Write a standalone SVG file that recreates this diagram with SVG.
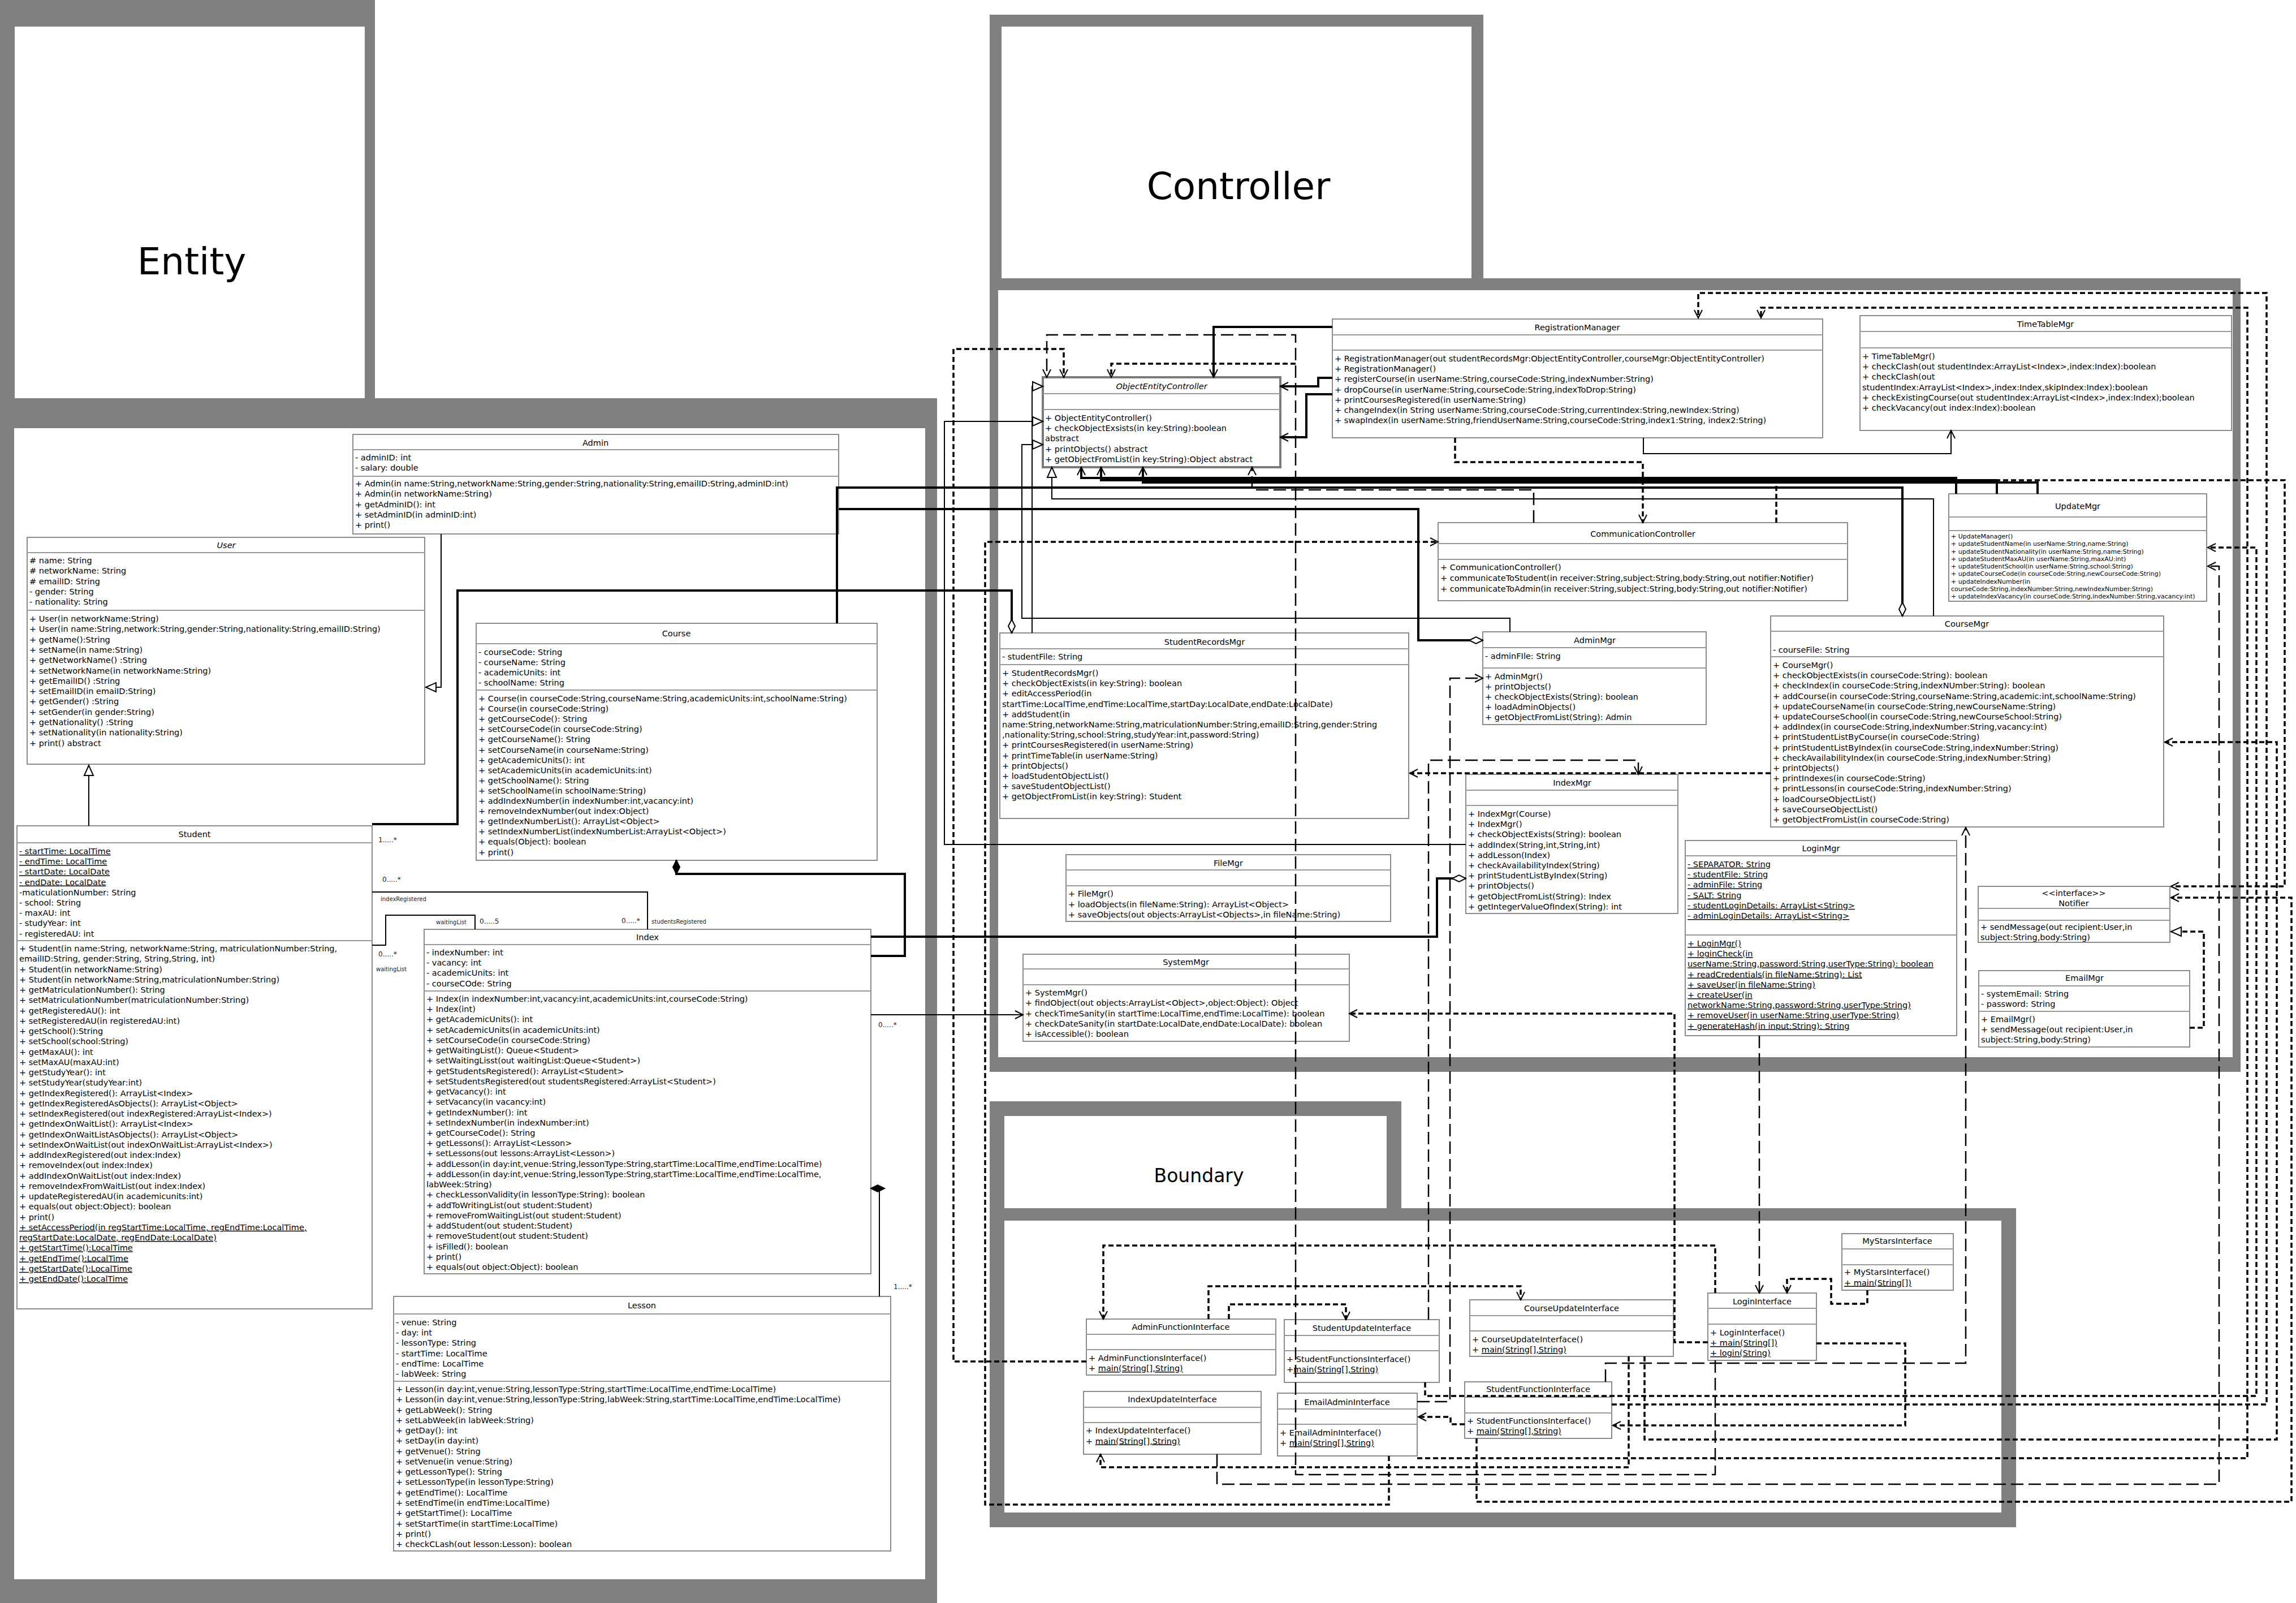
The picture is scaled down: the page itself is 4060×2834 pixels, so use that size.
<svg xmlns="http://www.w3.org/2000/svg" width="4060" height="2834" viewBox="0 0 4060 2834">
<style>
text{font-family:"DejaVu Sans","Liberation Sans",sans-serif;font-size:14.5px;fill:#000}
.c{text-anchor:middle}
.i{font-style:italic}
.u{text-decoration:underline}
.sm{font-size:11px}
.lb{font-size:10px;fill:#222}
.lm{font-size:12px;fill:#222}
.pk{font-size:66px}
.pk2{font-size:33px}
.box{fill:#fff;stroke:#8c8c8c;stroke-width:2}
.abs{fill:#fff;stroke:#7a7a7a;stroke-width:4}
.sep{stroke:#9a9a9a;stroke-width:2}
.frame{fill:#808080}
.inner{fill:#fff}
.ln{fill:none;stroke:#000;stroke-width:2}
.bold{stroke-width:4}
.dep{fill:none;stroke:#000;stroke-width:3.5;stroke-dasharray:9 5}
.dd{fill:none;stroke:#000;stroke-width:2.5;stroke-dasharray:22 9}
</style>
<defs>
<marker id="arrow" markerWidth="20" markerHeight="20" refX="17" refY="10" orient="auto" markerUnits="userSpaceOnUse"><path d="M3,3 L17,10 L3,17" fill="none" stroke="#000" stroke-width="2"/></marker>
<marker id="tri" markerWidth="24" markerHeight="22" refX="21" refY="11" orient="auto" markerUnits="userSpaceOnUse"><path d="M3,3 L21,11 L3,19 Z" fill="#fff" stroke="#000" stroke-width="2"/></marker>
<marker id="dia" markerWidth="30" markerHeight="18" refX="27" refY="9" orient="auto" markerUnits="userSpaceOnUse"><path d="M3,9 L15,3 L27,9 L15,15 Z" fill="#fff" stroke="#000" stroke-width="2"/></marker>
<marker id="fdia" markerWidth="30" markerHeight="18" refX="27" refY="9" orient="auto" markerUnits="userSpaceOnUse"><path d="M3,9 L15,3 L27,9 L15,15 Z" fill="#000" stroke="#000" stroke-width="2"/></marker>
</defs>
<rect width="4060" height="2834" fill="#fff"/>

<!-- package frames -->
<g id="pkg-entity">
<rect class="frame" x="0" y="0" width="663" height="757"/>
<rect class="frame" x="0" y="704" width="1657" height="2130"/>
<rect class="inner" x="26" y="47" width="619" height="657"/>
<rect class="inner" x="25" y="757" width="1611" height="2035"/>
<text class="pk c" x="339" y="485">Entity</text>
</g>
<g id="pkg-controller">
<rect class="frame" x="1750" y="26" width="873" height="487"/>
<rect class="frame" x="1750" y="492" width="2212" height="1403"/>
<rect class="inner" x="1771" y="47" width="831" height="445"/>
<rect class="inner" x="1765" y="513" width="2183" height="1356"/>
<text class="pk c" x="2190" y="352">Controller</text>
</g>
<g id="pkg-boundary">
<rect class="frame" x="1750" y="1947" width="728" height="211"/>
<rect class="frame" x="1750" y="2136" width="1815" height="564"/>
<rect class="inner" x="1776" y="1973" width="676" height="163"/>
<rect class="inner" x="1776" y="2158" width="1763" height="516"/>
<text class="pk2 c" x="2120" y="2090">Boundary</text>
</g>

<!-- entity classes -->
<g id="admin">
<rect class="box" x="624" y="768" width="859" height="176"/>
<line class="sep" x1="624" y1="795" x2="1483" y2="795"/><line class="sep" x1="624" y1="842" x2="1483" y2="842"/>
<text class="c" x="1053" y="788">Admin</text>
<text x="628" y="814">- adminID: int<tspan x="628" dy="18.3">- salary: double</tspan></text>
<text x="628" y="860">+ Admin(in name:String,networkName:String,gender:String,nationality:String,emailID:String,adminID:int)<tspan x="628" dy="18.3">+ Admin(in networkName:String)</tspan><tspan x="628" dy="18.3">+ getAdminID(): int</tspan><tspan x="628" dy="18.3">+ setAdminID(in adminID:int)</tspan><tspan x="628" dy="18.3">+ print()</tspan></text>
</g>
<g id="user">
<rect class="box" x="48" y="950" width="703" height="401"/>
<line class="sep" x1="48" y1="977" x2="751" y2="977"/><line class="sep" x1="48" y1="1079" x2="751" y2="1079"/>
<text class="c i" x="400" y="969">User</text>
<text x="52" y="996"># name: String<tspan x="52" dy="18.3"># networkName: String</tspan><tspan x="52" dy="18.3"># emailID: String</tspan><tspan x="52" dy="18.3">- gender: String</tspan><tspan x="52" dy="18.3">- nationality: String</tspan></text>
<text x="52" y="1099">+ User(in networkName:String)<tspan x="52" dy="18.3">+ User(in name:String,network:String,gender:String,nationality:String,emailID:String)</tspan><tspan x="52" dy="18.3">+ getName():String</tspan><tspan x="52" dy="18.3">+ setName(in name:String)</tspan><tspan x="52" dy="18.3">+ getNetworkName() :String</tspan><tspan x="52" dy="18.3">+ setNetworkName(in networkName:String)</tspan><tspan x="52" dy="18.3">+ getEmailID() :String</tspan><tspan x="52" dy="18.3">+ setEmailID(in emaiID:String)</tspan><tspan x="52" dy="18.3">+ getGender() :String</tspan><tspan x="52" dy="18.3">+ setGender(in gender:String)</tspan><tspan x="52" dy="18.3">+ getNationality() :String</tspan><tspan x="52" dy="18.3">+ setNationality(in nationality:String)</tspan><tspan x="52" dy="18.3">+ print() abstract</tspan></text>
</g>
<g id="student">
<rect class="box" x="30" y="1460" width="628" height="854"/>
<line class="sep" x1="30" y1="1490" x2="658" y2="1490"/><line class="sep" x1="30" y1="1663" x2="658" y2="1663"/>
<text class="c" x="344" y="1480">Student</text>
<text x="34" y="1510"><tspan class="u">- startTime: LocalTime</tspan><tspan class="u" x="34" dy="18.2">- endTime: LocalTime</tspan><tspan class="u" x="34" dy="18.2">- startDate: LocalDate</tspan><tspan class="u" x="34" dy="18.2">- endDate: LocalDate</tspan><tspan x="34" dy="18.2">-maticulationNumber: String</tspan><tspan x="34" dy="18.2">- school: String</tspan><tspan x="34" dy="18.2">- maxAU: int</tspan><tspan x="34" dy="18.2">- studyYear: int</tspan><tspan x="34" dy="18.2">- registeredAU: int</tspan></text>
<text x="34" y="1682">+ Student(in name:String, networkName:String, matriculationNumber:String,<tspan x="34" dy="18.25">emailID:String, gender:String, String,String, int)</tspan><tspan x="34" dy="18.25">+ Student(in networkName:String)</tspan><tspan x="34" dy="18.25">+ Student(in networkName:String,matriculationNumber:String)</tspan><tspan x="34" dy="18.25">+ getMatriculationNumber(): String</tspan><tspan x="34" dy="18.25">+ setMatriculationNumber(matriculationNumber:String)</tspan><tspan x="34" dy="18.25">+ getRegisteredAU(): int</tspan><tspan x="34" dy="18.25">+ setRegisteredAU(in registeredAU:int)</tspan><tspan x="34" dy="18.25">+ getSchool():String</tspan><tspan x="34" dy="18.25">+ setSchool(school:String)</tspan><tspan x="34" dy="18.25">+ getMaxAU(): int</tspan><tspan x="34" dy="18.25">+ setMaxAU(maxAU:int)</tspan><tspan x="34" dy="18.25">+ getStudyYear(): int</tspan><tspan x="34" dy="18.25">+ setStudyYear(studyYear:int)</tspan><tspan x="34" dy="18.25">+ getIndexRegistered(): ArrayList&lt;Index&gt;</tspan><tspan x="34" dy="18.25">+ getIndexRegisteredAsObjects(): ArrayList&lt;Object&gt;</tspan><tspan x="34" dy="18.25">+ setIndexRegistered(out indexRegistered:ArrayList&lt;Index&gt;)</tspan><tspan x="34" dy="18.25">+ getIndexOnWaitList(): ArrayList&lt;Index&gt;</tspan><tspan x="34" dy="18.25">+ getIndexOnWaitListAsObjects(): ArrayList&lt;Object&gt;</tspan><tspan x="34" dy="18.25">+ setIndexOnWaitList(out indexOnWaitList:ArrayList&lt;Index&gt;)</tspan><tspan x="34" dy="18.25">+ addIndexRegistered(out index:Index)</tspan><tspan x="34" dy="18.25">+ removeIndex(out index:Index)</tspan><tspan x="34" dy="18.25">+ addIndexOnWaitList(out index:Index)</tspan><tspan x="34" dy="18.25">+ removeIndexFromWaitList(out index:Index)</tspan><tspan x="34" dy="18.25">+ updateRegisteredAU(in academicunits:int)</tspan><tspan x="34" dy="18.25">+ equals(out object:Object): boolean</tspan><tspan x="34" dy="18.25">+ print()</tspan><tspan class="u" x="34" dy="18.25">+ setAccessPeriod(in regStartTime:LocalTime, regEndTime:LocalTime,</tspan><tspan class="u" x="34" dy="18.25">regStartDate:LocalDate, regEndDate:LocalDate)</tspan><tspan class="u" x="34" dy="18.25">+ getStartTime():LocalTime</tspan><tspan class="u" x="34" dy="18.25">+ getEndTime():LocalTime</tspan><tspan class="u" x="34" dy="18.25">+ getStartDate():LocalTime</tspan><tspan class="u" x="34" dy="18.25">+ getEndDate():LocalTime</tspan></text>
</g>
<g id="course">
<rect class="box" x="842" y="1102" width="709" height="419"/>
<line class="sep" x1="842" y1="1138" x2="1551" y2="1138"/><line class="sep" x1="842" y1="1220" x2="1551" y2="1220"/>
<text class="c" x="1196" y="1125">Course</text>
<text x="846" y="1158">- courseCode: String<tspan x="846" dy="18.1">- courseName: String</tspan><tspan x="846" dy="18.1">- academicUnits: int</tspan><tspan x="846" dy="18.1">- schoolName: String</tspan></text>
<text x="846" y="1240">+ Course(in courseCode:String,courseName:String,academicUnits:int,schoolName:String)<tspan x="846" dy="18.1">+ Course(in courseCode:String)</tspan><tspan x="846" dy="18.1">+ getCourseCode(): String</tspan><tspan x="846" dy="18.1">+ setCourseCode(in courseCode:String)</tspan><tspan x="846" dy="18.1">+ getCourseName(): String</tspan><tspan x="846" dy="18.1">+ setCourseName(in courseName:String)</tspan><tspan x="846" dy="18.1">+ getAcademicUnits(): int</tspan><tspan x="846" dy="18.1">+ setAcademicUnits(in academicUnits:int)</tspan><tspan x="846" dy="18.1">+ getSchoolName(): String</tspan><tspan x="846" dy="18.1">+ setSchoolName(in schoolName:String)</tspan><tspan x="846" dy="18.1">+ addIndexNumber(in indexNumber:int,vacancy:int)</tspan><tspan x="846" dy="18.1">+ removeIndexNumber(out index:Object)</tspan><tspan x="846" dy="18.1">+ getIndexNumberList(): ArrayList&lt;Object&gt;</tspan><tspan x="846" dy="18.1">+ setIndexNumberList(indexNumberList:ArrayList&lt;Object&gt;)</tspan><tspan x="846" dy="18.1">+ equals(Object): boolean</tspan><tspan x="846" dy="18.1">+ print()</tspan></text>
</g>
<g id="index">
<rect class="box" x="750" y="1643" width="790" height="609"/>
<line class="sep" x1="750" y1="1670" x2="1540" y2="1670"/><line class="sep" x1="750" y1="1752" x2="1540" y2="1752"/>
<text class="c" x="1145" y="1662">Index</text>
<text x="754" y="1689">- indexNumber: int<tspan x="754" dy="18.2">- vacancy: int</tspan><tspan x="754" dy="18.2">- academicUnits: int</tspan><tspan x="754" dy="18.2">- courseCOde: String</tspan></text>
<text x="754" y="1771">+ Index(in indexNumber:int,vacancy:int,academicUnits:int,courseCode:String)<tspan x="754" dy="18.23">+ Index(int)</tspan><tspan x="754" dy="18.23">+ getAcademicUnits(): int</tspan><tspan x="754" dy="18.23">+ setAcademicUnits(in academicUnits:int)</tspan><tspan x="754" dy="18.23">+ setCourseCode(in courseCode:String)</tspan><tspan x="754" dy="18.23">+ getWaitingList(): Queue&lt;Student&gt;</tspan><tspan x="754" dy="18.23">+ setWaitingLisst(out waitingList:Queue&lt;Student&gt;)</tspan><tspan x="754" dy="18.23">+ getStudentsRegistered(): ArrayList&lt;Student&gt;</tspan><tspan x="754" dy="18.23">+ setStudentsRegistered(out studentsRegistered:ArrayList&lt;Student&gt;)</tspan><tspan x="754" dy="18.23">+ getVacancy(): int</tspan><tspan x="754" dy="18.23">+ setVacancy(in vacancy:int)</tspan><tspan x="754" dy="18.23">+ getIndexNumber(): int</tspan><tspan x="754" dy="18.23">+ setIndexNumber(in indexNumber:int)</tspan><tspan x="754" dy="18.23">+ getCourseCode(): String</tspan><tspan x="754" dy="18.23">+ getLessons(): ArrayList&lt;Lesson&gt;</tspan><tspan x="754" dy="18.23">+ setLessons(out lessons:ArrayList&lt;Lesson&gt;)</tspan><tspan x="754" dy="18.23">+ addLesson(in day:int,venue:String,lessonType:String,startTime:LocalTime,endTime:LocalTime)</tspan><tspan x="754" dy="18.23">+ addLesson(in day:int,venue:String,lessonType:String,startTime:LocalTime,endTime:LocalTime,</tspan><tspan x="754" dy="18.23">labWeek:String)</tspan><tspan x="754" dy="18.23">+ checkLessonValidity(in lessonType:String): boolean</tspan><tspan x="754" dy="18.23">+ addToWritingList(out student:Student)</tspan><tspan x="754" dy="18.23">+ removeFromWaitingList(out student:Student)</tspan><tspan x="754" dy="18.23">+ addStudent(out student:Student)</tspan><tspan x="754" dy="18.23">+ removeStudent(out student:Student)</tspan><tspan x="754" dy="18.23">+ isFilled(): boolean</tspan><tspan x="754" dy="18.23">+ print()</tspan><tspan x="754" dy="18.23">+ equals(out object:Object): boolean</tspan></text>
</g>
<g id="lesson">
<rect class="box" x="696" y="2292" width="879" height="450"/>
<line class="sep" x1="696" y1="2323" x2="1575" y2="2323"/><line class="sep" x1="696" y1="2442" x2="1575" y2="2442"/>
<text class="c" x="1135" y="2313">Lesson</text>
<text x="700" y="2343">- venue: String<tspan x="700" dy="18.2">- day: int</tspan><tspan x="700" dy="18.2">- lessonType: String</tspan><tspan x="700" dy="18.2">- startTime: LocalTime</tspan><tspan x="700" dy="18.2">- endTime: LocalTime</tspan><tspan x="700" dy="18.2">- labWeek: String</tspan></text>
<text x="700" y="2461">+ Lesson(in day:int,venue:String,lessonType:String,startTime:LocalTime,endTime:LocalTime)<tspan x="700" dy="18.27">+ Lesson(in day:int,venue:String,lessonType:String,labWeek:String,startTime:LocalTime,endTime:LocalTime)</tspan><tspan x="700" dy="18.27">+ getLabWeek(): String</tspan><tspan x="700" dy="18.27">+ setLabWeek(in labWeek:String)</tspan><tspan x="700" dy="18.27">+ getDay(): int</tspan><tspan x="700" dy="18.27">+ setDay(in day:int)</tspan><tspan x="700" dy="18.27">+ getVenue(): String</tspan><tspan x="700" dy="18.27">+ setVenue(in venue:String)</tspan><tspan x="700" dy="18.27">+ getLessonType(): String</tspan><tspan x="700" dy="18.27">+ setLessonType(in lessonType:String)</tspan><tspan x="700" dy="18.27">+ getEndTime(): LocalTime</tspan><tspan x="700" dy="18.27">+ setEndTime(in endTime:LocalTime)</tspan><tspan x="700" dy="18.27">+ getStartTime(): LocalTime</tspan><tspan x="700" dy="18.27">+ setStartTime(in startTime:LocalTime)</tspan><tspan x="700" dy="18.27">+ print()</tspan><tspan x="700" dy="18.27">+ checkCLash(out lesson:Lesson): boolean</tspan></text>
</g>

<!-- controller classes -->
<g id="objectEntityController">
<rect class="abs" x="1844" y="667" width="420" height="159"/>
<line class="sep" x1="1844" y1="696" x2="2264" y2="696"/><line class="sep" x1="1844" y1="724" x2="2264" y2="724"/>
<text class="c i" x="2054" y="688">ObjectEntityController</text>
<text x="1848" y="744">+ ObjectEntityController()<tspan x="1848" dy="18.2">+ checkObjectExsists(in key:String):boolean</tspan><tspan x="1848" dy="18.2">abstract</tspan><tspan x="1848" dy="18.2">+ printObjects() abstract</tspan><tspan x="1848" dy="18.2">+ getObjectFromList(in key:String):Object abstract</tspan></text>
</g>
<g id="registrationManager">
<rect class="box" x="2356" y="564" width="867" height="210"/>
<line class="sep" x1="2356" y1="592" x2="3223" y2="592"/><line class="sep" x1="2356" y1="619" x2="3223" y2="619"/>
<text class="c" x="2789" y="584">RegistrationManager</text>
<text x="2360" y="639">+ RegistrationManager(out studentRecordsMgr:ObjectEntityController,courseMgr:ObjectEntityController)<tspan x="2360" dy="18.2">+ RegistrationManager()</tspan><tspan x="2360" dy="18.2">+ registerCourse(in userName:String,courseCode:String,indexNumber:String)</tspan><tspan x="2360" dy="18.2">+ dropCourse(in userName:String,courseCode:String,indexToDrop:String)</tspan><tspan x="2360" dy="18.2">+ printCoursesRegistered(in userName:String)</tspan><tspan x="2360" dy="18.2">+ changeIndex(in String userName:String,courseCode:String,currentIndex:String,newIndex:String)</tspan><tspan x="2360" dy="18.2">+ swapIndex(in userName:String,friendUserName:String,courseCode:String,index1:String, index2:String)</tspan></text>
</g>
<g id="timeTableMgr">
<rect class="box" x="3289" y="558" width="657" height="203"/>
<line class="sep" x1="3289" y1="586" x2="3946" y2="586"/><line class="sep" x1="3289" y1="615" x2="3946" y2="615"/>
<text class="c" x="3617" y="578">TimeTableMgr</text>
<text x="3293" y="635">+ TimeTableMgr()<tspan x="3293" dy="18.2">+ checkClash(out studentIndex:ArrayList&lt;Index&gt;,index:Index):boolean</tspan><tspan x="3293" dy="18.2">+ checkClash(out</tspan><tspan x="3293" dy="18.2">studentIndex:ArrayList&lt;Index&gt;,index:Index,skipIndex:Index):boolean</tspan><tspan x="3293" dy="18.2">+ checkExistingCourse(out studentIndex:ArrayList&lt;Index&gt;,index:Index);boolean</tspan><tspan x="3293" dy="18.2">+ checkVacancy(out index:Index):boolean</tspan></text>
</g>
<g id="updateMgr">
<rect class="box" x="3446" y="873" width="456" height="190"/>
<line class="sep" x1="3446" y1="914" x2="3902" y2="914"/><line class="sep" x1="3446" y1="938" x2="3902" y2="938"/>
<text class="c" x="3674" y="900">UpdateMgr</text>
<text class="sm" x="3450" y="952">+ UpdateManager()<tspan x="3450" dy="13.25">+ updateStudentName(in userName:String,name:String)</tspan><tspan x="3450" dy="13.25">+ updateStudentNationality(in userName:String,name:String)</tspan><tspan x="3450" dy="13.25">+ updateStudentMaxAU(in userName:String,maxAU:int)</tspan><tspan x="3450" dy="13.25">+ updateStudentSchool(in userName:String,school:String)</tspan><tspan x="3450" dy="13.25">+ updateCourseCode(in courseCode:String,newCourseCode:String)</tspan><tspan x="3450" dy="13.25">+ updateIndexNumber(in</tspan><tspan x="3450" dy="13.25">courseCode:String,indexNumber:String,newIndexNumber:String)</tspan><tspan x="3450" dy="13.25">+ updateIndexVacancy(in courseCode:String,indexNumber:String,vacancy:int)</tspan></text>
</g>
<g id="communicationController">
<rect class="box" x="2543" y="924" width="724" height="138"/>
<line class="sep" x1="2543" y1="961" x2="3267" y2="961"/><line class="sep" x1="2543" y1="989" x2="3267" y2="989"/>
<text class="c" x="2905" y="949">CommunicationController</text>
<text x="2547" y="1008">+ CommunicationController()<tspan x="2547" dy="18.8">+ communicateToStudent(in receiver:String,subject:String,body:String,out notifier:Notifier)</tspan><tspan x="2547" dy="18.8">+ communicateToAdmin(in receiver:String,subject:String,body:String,out notifier:Notifier)</tspan></text>
</g>
<g id="studentRecordsMgr">
<rect class="box" x="1768" y="1119" width="723" height="328"/>
<line class="sep" x1="1768" y1="1147" x2="2491" y2="1147"/><line class="sep" x1="1768" y1="1175" x2="2491" y2="1175"/>
<text class="c" x="2130" y="1140">StudentRecordsMgr</text>
<text x="1772" y="1166">- studentFile: String</text>
<text x="1772" y="1195">+ StudentRecordsMgr()<tspan x="1772" dy="18.2">+ checkObjectExists(in key:String): boolean</tspan><tspan x="1772" dy="18.2">+ editAccessPeriod(in</tspan><tspan x="1772" dy="18.2">startTime:LocalTime,endTime:LocalTime,startDay:LocalDate,endDate:LocalDate)</tspan><tspan x="1772" dy="18.2">+ addStudent(in</tspan><tspan x="1772" dy="18.2">name:String,networkName:String,matriculationNumber:String,emailID:String,gender:String</tspan><tspan x="1772" dy="18.2">,nationality:String,school:String,studyYear:int,password:String)</tspan><tspan x="1772" dy="18.2">+ printCoursesRegistered(in userName:String)</tspan><tspan x="1772" dy="18.2">+ printTimeTable(in userName:String)</tspan><tspan x="1772" dy="18.2">+ printObjects()</tspan><tspan x="1772" dy="18.2">+ loadStudentObjectList()</tspan><tspan x="1772" dy="18.2">+ saveStudentObjectList()</tspan><tspan x="1772" dy="18.2">+ getObjectFromList(in key:String): Student</tspan></text>
</g>
<g id="adminMgr">
<rect class="box" x="2622" y="1117" width="395" height="164"/>
<line class="sep" x1="2622" y1="1145" x2="3017" y2="1145"/><line class="sep" x1="2622" y1="1181" x2="3017" y2="1181"/>
<text class="c" x="2820" y="1137">AdminMgr</text>
<text x="2626" y="1165">- adminFIle: String</text>
<text x="2626" y="1201">+ AdminMgr()<tspan x="2626" dy="18">+ printObjects()</tspan><tspan x="2626" dy="18">+ checkObjectExists(String): boolean</tspan><tspan x="2626" dy="18">+ loadAdminObjects()</tspan><tspan x="2626" dy="18">+ getObjectFromList(String): Admin</tspan></text>
</g>
<g id="courseMgr">
<rect class="box" x="3131" y="1089" width="695" height="373"/>
<line class="sep" x1="3131" y1="1116" x2="3826" y2="1116"/><line class="sep" x1="3131" y1="1161" x2="3826" y2="1161"/>
<text class="c" x="3478" y="1108">CourseMgr</text>
<text x="3135" y="1154">- courseFile: String</text>
<text x="3135" y="1181">+ CourseMgr()<tspan x="3135" dy="18.2">+ checkObjectExists(in courseCode:String): boolean</tspan><tspan x="3135" dy="18.2">+ checkIndex(in courseCode:String,indexNUmber:String): boolean</tspan><tspan x="3135" dy="18.2">+ addCourse(in courseCode:String,courseName:String,academic:int,schoolName:String)</tspan><tspan x="3135" dy="18.2">+ updateCourseName(in courseCode:String,newCourseName:String)</tspan><tspan x="3135" dy="18.2">+ updateCourseSchool(in courseCode:String,newCourseSchool:String)</tspan><tspan x="3135" dy="18.2">+ addIndex(in courseCode:String,indexNumber:String,vacancy:int)</tspan><tspan x="3135" dy="18.2">+ printStudentListByCourse(in courseCode:String)</tspan><tspan x="3135" dy="18.2">+ printStudentListByIndex(in courseCode:String,indexNumber:String)</tspan><tspan x="3135" dy="18.2">+ checkAvailabilityIndex(in courseCode:String,indexNumber:String)</tspan><tspan x="3135" dy="18.2">+ printObjects()</tspan><tspan x="3135" dy="18.2">+ printIndexes(in courseCode:String)</tspan><tspan x="3135" dy="18.2">+ printLessons(in courseCode:String,indexNumber:String)</tspan><tspan x="3135" dy="18.2">+ loadCourseObjectList()</tspan><tspan x="3135" dy="18.2">+ saveCourseObjectList()</tspan><tspan x="3135" dy="18.2">+ getObjectFromList(in courseCode:String)</tspan></text>
</g>
<g id="indexMgr">
<rect class="box" x="2592" y="1369" width="375" height="246"/>
<line class="sep" x1="2592" y1="1397" x2="2967" y2="1397"/><line class="sep" x1="2592" y1="1424" x2="2967" y2="1424"/>
<text class="c" x="2780" y="1389">IndexMgr</text>
<text x="2596" y="1444">+ IndexMgr(Course)<tspan x="2596" dy="18.2">+ IndexMgr()</tspan><tspan x="2596" dy="18.2">+ checkObjectExists(String): boolean</tspan><tspan x="2596" dy="18.2">+ addIndex(String,int,String,int)</tspan><tspan x="2596" dy="18.2">+ addLesson(Index)</tspan><tspan x="2596" dy="18.2">+ checkAvailabilityIndex(String)</tspan><tspan x="2596" dy="18.2">+ printStudentListByIndex(String)</tspan><tspan x="2596" dy="18.2">+ printObjects()</tspan><tspan x="2596" dy="18.2">+ getObjectFromList(String): Index</tspan><tspan x="2596" dy="18.2">+ getIntegerValueOfIndex(String): int</tspan></text>
</g>
<g id="fileMgr">
<rect class="box" x="1885" y="1511" width="574" height="118"/>
<line class="sep" x1="1885" y1="1538" x2="2459" y2="1538"/><line class="sep" x1="1885" y1="1566" x2="2459" y2="1566"/>
<text class="c" x="2172" y="1531">FileMgr</text>
<text x="1889" y="1585">+ FileMgr()<tspan x="1889" dy="18.5">+ loadObjects(in fileName:String): ArrayList&lt;Object&gt;</tspan><tspan x="1889" dy="18.5">+ saveObjects(out objects:ArrayList&lt;Objects&gt;,in fileName:String)</tspan></text>
</g>
<g id="systemMgr">
<rect class="box" x="1809" y="1687" width="577" height="154"/>
<line class="sep" x1="1809" y1="1713" x2="2386" y2="1713"/><line class="sep" x1="1809" y1="1741" x2="2386" y2="1741"/>
<text class="c" x="2097" y="1706">SystemMgr</text>
<text x="1813" y="1760">+ SystemMgr()<tspan x="1813" dy="18.3">+ findObject(out objects:ArrayList&lt;Object&gt;,object:Object): Object</tspan><tspan x="1813" dy="18.3">+ checkTimeSanity(in startTime:LocalTime,endTime:LocalTime): boolean</tspan><tspan x="1813" dy="18.3">+ checkDateSanity(in startDate:LocalDate,endDate:LocalDate): boolean</tspan><tspan x="1813" dy="18.3">+ isAccessible(): boolean</tspan></text>
</g>
<g id="loginMgr">
<rect class="box" x="2980" y="1486" width="480" height="345"/>
<line class="sep" x1="2980" y1="1513" x2="3460" y2="1513"/><line class="sep" x1="2980" y1="1653" x2="3460" y2="1653"/>
<text class="c" x="3220" y="1505">LoginMgr</text>
<text class="u" x="2984" y="1533">- SEPARATOR: String<tspan x="2984" dy="18.2">- studentFile: String</tspan><tspan x="2984" dy="18.2">- adminFile: String</tspan><tspan x="2984" dy="18.2">- SALT: String</tspan><tspan x="2984" dy="18.2">- studentLoginDetails: ArrayList&lt;String&gt;</tspan><tspan x="2984" dy="18.2">- adminLoginDetails: ArrayList&lt;String&gt;</tspan></text>
<text class="u" x="2984" y="1673">+ LoginMgr()<tspan x="2984" dy="18.2">+ loginCheck(in</tspan><tspan x="2984" dy="18.2">userName:String,password:String,userType:String): boolean</tspan><tspan x="2984" dy="18.2">+ readCredentials(in fileName:String): List</tspan><tspan x="2984" dy="18.2">+ saveUser(in fileName:String)</tspan><tspan x="2984" dy="18.2">+ createUser(in</tspan><tspan x="2984" dy="18.2">networkName:String,password:String,userType:String)</tspan><tspan x="2984" dy="18.2">+ removeUser(in userName:String,userType:String)</tspan><tspan x="2984" dy="18.2">+ generateHash(in input:String): String</tspan></text>
</g>
<g id="notifier">
<rect class="box" x="3498" y="1567" width="339" height="99"/>
<line class="sep" x1="3498" y1="1606" x2="3837" y2="1606"/><line class="sep" x1="3498" y1="1627" x2="3837" y2="1627"/>
<text class="c" x="3667" y="1584">&lt;&lt;interface&gt;&gt;</text>
<text class="c" x="3667" y="1602">Notifier</text>
<text x="3502" y="1644">+ sendMessage(out recipient:User,in<tspan x="3502" dy="18">subject:String,body:String)</tspan></text>
</g>
<g id="emailMgr">
<rect class="box" x="3499" y="1716" width="373" height="135"/>
<line class="sep" x1="3499" y1="1743" x2="3872" y2="1743"/><line class="sep" x1="3499" y1="1788" x2="3872" y2="1788"/>
<text class="c" x="3686" y="1734">EmailMgr</text>
<text x="3503" y="1762">- systemEmail: String<tspan x="3503" dy="18">- password: String</tspan></text>
<text x="3503" y="1807">+ EmailMgr()<tspan x="3503" dy="18">+ sendMessage(out recipient:User,in</tspan><tspan x="3503" dy="18">subject:String,body:String)</tspan></text>
</g>

<!-- boundary classes -->
<g id="myStarsInterface">
<rect class="box" x="3257" y="2181" width="197" height="100"/>
<line class="sep" x1="3257" y1="2208" x2="3454" y2="2208"/><line class="sep" x1="3257" y1="2236" x2="3454" y2="2236"/>
<text class="c" x="3355" y="2199">MyStarsInterface</text>
<text x="3261" y="2254">+ MyStarsInterface()<tspan class="u" x="3261" dy="18.5">+ main(String[])</tspan></text>
</g>
<g id="loginInterface">
<rect class="box" x="3020" y="2286" width="192" height="119"/>
<line class="sep" x1="3020" y1="2313" x2="3212" y2="2313"/><line class="sep" x1="3020" y1="2341" x2="3212" y2="2341"/>
<text class="c" x="3116" y="2306">LoginInterface</text>
<text x="3024" y="2361">+ LoginInterface()<tspan class="u" x="3024" dy="18">+ main(String[])</tspan><tspan class="u" x="3024" dy="18">+ login(String)</tspan></text>
</g>
<g id="courseUpdateInterface">
<rect class="box" x="2599" y="2298" width="360" height="100"/>
<line class="sep" x1="2599" y1="2326" x2="2959" y2="2326"/><line class="sep" x1="2599" y1="2353" x2="2959" y2="2353"/>
<text class="c" x="2779" y="2318">CourseUpdateInterface</text>
<text x="2603" y="2373">+ CourseUpdateInterface()<tspan x="2603" dy="18">+ </tspan><tspan class="u">main(String[],String)</tspan></text>
</g>
<g id="adminFunctionInterface">
<rect class="box" x="1921" y="2332" width="335" height="99"/>
<line class="sep" x1="1921" y1="2359" x2="2256" y2="2359"/><line class="sep" x1="1921" y1="2386" x2="2256" y2="2386"/>
<text class="c" x="2088" y="2351">AdminFunctionInterface</text>
<text x="1925" y="2406">+ AdminFunctionsInterface()<tspan x="1925" dy="18">+ </tspan><tspan class="u">main(String[],String)</tspan></text>
</g>
<g id="studentUpdateInterface">
<rect class="box" x="2271" y="2333" width="274" height="111"/>
<line class="sep" x1="2271" y1="2361" x2="2545" y2="2361"/><line class="sep" x1="2271" y1="2388" x2="2545" y2="2388"/>
<text class="c" x="2408" y="2353">StudentUpdateInterface</text>
<text x="2275" y="2408">+ StudentFunctionsInterface()<tspan x="2275" dy="18">+</tspan><tspan class="u">main(String[],String)</tspan></text>
</g>
<g id="indexUpdateInterface">
<rect class="box" x="1916" y="2460" width="314" height="111"/>
<line class="sep" x1="1916" y1="2488" x2="2230" y2="2488"/><line class="sep" x1="1916" y1="2515" x2="2230" y2="2515"/>
<text class="c" x="2073" y="2479">IndexUpdateInterface</text>
<text x="1920" y="2534">+ IndexUpdateInterface()<tspan x="1920" dy="18.5">+ </tspan><tspan class="u">main(String[],String)</tspan></text>
</g>
<g id="emailAdminInterface">
<rect class="box" x="2259" y="2463" width="247" height="111"/>
<line class="sep" x1="2259" y1="2491" x2="2506" y2="2491"/><line class="sep" x1="2259" y1="2518" x2="2506" y2="2518"/>
<text class="c" x="2382" y="2484">EmailAdminInterface</text>
<text x="2263" y="2538">+ EmailAdminInterface()<tspan x="2263" dy="18">+ </tspan><tspan class="u">main(String[],String)</tspan></text>
</g>
<g id="studentFunctionInterface">
<rect class="box" x="2590" y="2443" width="260" height="100"/>
<line class="sep" x1="2590" y1="2470" x2="2850" y2="2470"/><line class="sep" x1="2590" y1="2498" x2="2850" y2="2498"/>
<text class="c" x="2720" y="2461">StudentFunctionInterface</text>
<text x="2594" y="2517">+ StudentFunctionsInterface()<tspan x="2594" dy="18">+ </tspan><tspan class="u">main(String[],String)</tspan></text>
</g>

<!-- connectors -->
<g id="connectors">
<path class="ln" d="M780,944 V1215 H753" marker-end="url(#tri)"/>
<path class="ln" d="M157,1460 V1353" marker-end="url(#tri)"/>
<path class="ln bold" d="M658,1457 H809 V1044 H1789 V1119" marker-end="url(#dia)"/>
<path class="ln bold" d="M1483,900 H2508 V1132 H2622" marker-end="url(#dia)"/>
<path class="ln bold" d="M1480,1102 V862 H3364 V1089" marker-end="url(#dia)"/>
<path class="ln" d="M658,1577 H1145 V1643"/>
<path class="ln" d="M658,1671 H682 V1618 H840 V1643"/>
<path class="ln bold" d="M1540,1690 H1600 V1545 H1196 V1521" marker-end="url(#fdia)"/>
<path class="ln bold" d="M1540,1656 H2541 V1553 H2592" marker-end="url(#dia)"/>
<path class="ln" d="M1540,1794 H1809" marker-end="url(#arrow)"/>
<path class="ln" d="M1555,2292 V2101 H1540" marker-end="url(#fdia)"/>

<path class="ln bold" d="M2356,578 H2146 V667" marker-end="url(#arrow)"/>
<path class="ln bold" d="M2356,668 H2331 V683 H2264" marker-end="url(#arrow)"/>
<path class="ln bold" d="M2356,697 H2310 V773 H2264" marker-end="url(#arrow)"/>
<path class="ln" d="M2906,774 V802 H3450 V761" marker-end="url(#arrow)"/>
<path class="dep" d="M2573,774 V817 H2905 V924" marker-end="url(#arrow)"/>
<path class="ln" d="M1825,1119 V683 H1844" marker-end="url(#tri)"/>
<path class="ln" d="M2592,1493 H1670 V745 H1844" marker-end="url(#tri)"/>
<path class="ln" d="M2670,1117 V1093 H1807 V786 H1844" marker-end="url(#tri)"/>
<path class="ln" d="M3419,1089 V882 H1860 V826" marker-end="url(#tri)"/>
<path class="ln bold" d="M3459,873 V845 H1912 V826" marker-end="url(#arrow)"/>
<path class="ln bold" d="M3531,873 V849 H1947 V826" marker-end="url(#arrow)"/>
<path class="ln bold" d="M3603,873 V853 H2021 V826" marker-end="url(#arrow)"/>
<path class="dd" d="M2712,924 V866 H2214 V826" marker-end="url(#arrow)"/>
<path class="dd" d="M3033,2405 V2607 H2291 V592 H1851 V667" marker-end="url(#arrow)"/>
<path class="dep" d="M2291,643 H1965 V667" marker-end="url(#arrow)"/>
<path class="dep" d="M1921,2407 H1686 V617 H1881 V667" marker-end="url(#arrow)"/>
<path class="dep" d="M3131,1367 H2493" marker-end="url(#arrow)"/>
<path class="dd" d="M2526,2333 V1344 H2897 V1369" marker-end="url(#arrow)"/>
<path class="dd" d="M2506,2478 H2564 V1199 H2622" marker-end="url(#arrow)"/>
<path class="dep" d="M2456,2574 V2660 H1742 V958 H2543" marker-end="url(#arrow)"/>
<path class="dep" d="M3020,2373 H2961 V1792 H2386" marker-end="url(#arrow)"/>
<path class="dd" d="M3111,1831 V2286" marker-end="url(#arrow)"/>
<path class="dep" d="M3302,2281 V2305 H3238 V2261 H3160 V2286" marker-end="url(#arrow)"/>
<path class="dep" d="M3033,2286 V2202 H1951 V2332" marker-end="url(#arrow)"/>
<path class="dep" d="M2137,2332 V2274 H2689 V2298" marker-end="url(#arrow)"/>
<path class="dep" d="M2173,2332 V2306 H2380 V2333" marker-end="url(#arrow)"/>
<path class="dep" d="M2880,2398 V2594 H1946 V2571" marker-end="url(#arrow)"/>
<path class="dd" d="M2839,2443 V2410 H3476 V1463" marker-end="url(#arrow)"/>
<path class="dep" d="M3212,2375 H3369 V2520 H2852" marker-end="url(#arrow)"/>
<path class="dep" d="M2590,2518 H2565 V2505 H2508" marker-end="url(#arrow)"/>
<path class="dep" d="M3872,1817 H3897 V1647 H3839" marker-end="url(#tri)"/>
<path class="dep" d="M2850,2483 H4008 V518 H3003 V562" marker-end="url(#arrow)"/>
<path class="dep" d="M2506,2578 H3974 V544 H3114 V562" marker-end="url(#arrow)"/>
<path class="dep" d="M3141,924 V849 H4040 V1567 H3839" marker-end="url(#arrow)"/>
<path class="dep" d="M2611,2543 V2655 H4052 V1587 H3839" marker-end="url(#arrow)"/>
<path class="dep" d="M2520,2444 V2468 H3990 V968 H3904" marker-end="url(#arrow)"/>
<path class="dd" d="M2152,2571 V2624 H3924 V1001 H3904" marker-end="url(#arrow)"/>
<path class="dep" d="M2908,2398 V2545 H4026 V1312 H3828" marker-end="url(#arrow)"/>
</g>
<g id="labels">
<text class="lm" x="669" y="1489">1.....*</text>
<text class="lm" x="676" y="1559">0.....*</text>
<text class="lb" x="673" y="1593">indexRegistered</text>
<text class="lm" x="1099" y="1632">0.....*</text>
<text class="lb" x="1152" y="1633">studentsRegistered</text>
<text class="lb" x="771" y="1634">waitingList</text>
<text class="lm" x="848" y="1633">0.....5</text>
<text class="lm" x="669" y="1691">0.....*</text>
<text class="lb" x="665" y="1717">waitingList</text>
<text class="lm" x="1553" y="1816">0.....*</text>
<text class="lm" x="1580" y="2279">1.....*</text>
</g>
</svg>
